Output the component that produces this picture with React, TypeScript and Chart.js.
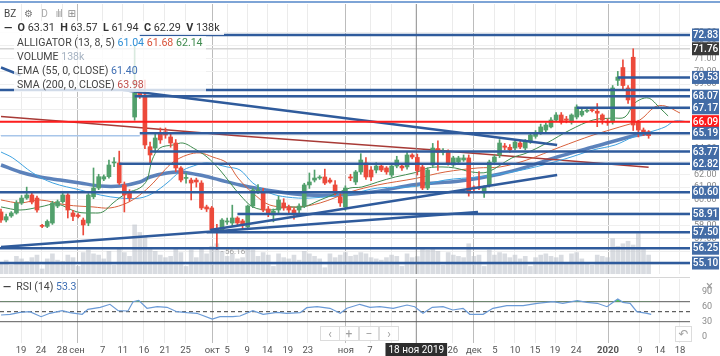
import React, { useEffect, useRef } from "react";
import { Chart, registerables } from "chart.js";

Chart.register(...registerables);

const FONT = "Roboto, 'Open Sans', 'DejaVu Sans', sans-serif";

// ---- candles (bar index 0..126) ----
const opens = [59.07,58.44,58.76,58.99,59.77,60.15,60.39,60.15,58.03,57.95,58.21,59.53,59.87,60.39,58.99,58.83,58.44,58.21,60.25,60.93,61.63,61.81,62.88,62.88,61.17,60.54,66.45,68.40,68.16,64.14,64.04,65.21,65.30,64.90,64.43,62.49,61.68,61.55,61.55,61.32,59.46,59.38,57.80,57.67,58.29,58.21,58.60,58.37,57.90,59.53,60.62,60.54,59.30,58.83,59.22,59.77,59.46,59.22,59.22,59.53,61.17,61.55,61.71,61.79,61.55,61.17,60.23,59.46,61.79,61.40,62.18,62.88,62.33,62.33,62.64,62.49,61.94,62.64,62.64,62.57,63.50,63.31,62.57,60.93,62.72,64.00,63.70,63.73,62.72,62.95,63.11,63.27,61.01,61.00,60.54,61.17,62.95,63.50,64.20,64.10,64.04,64.43,64.04,64.51,64.95,65.21,65.44,65.68,66.22,66.61,66.30,66.06,66.45,66.61,66.90,67.00,66.90,66.61,66.10,66.06,69.30,70.30,68.71,71.10,66.06,65.44,65.30];
const highs = [59.30,58.90,59.10,59.95,60.35,61.00,60.55,60.30,58.10,58.45,59.90,60.00,60.60,60.50,59.20,58.95,58.60,60.50,62.49,62.00,61.95,63.11,63.30,63.80,61.40,60.80,71.97,68.90,69.33,64.50,65.20,65.60,65.60,65.20,64.70,62.60,62.10,61.70,61.70,61.50,59.60,59.50,58.10,58.55,58.60,59.60,58.70,58.50,59.60,60.93,61.20,60.90,59.50,59.30,60.30,60.10,59.60,59.40,59.70,61.30,62.10,62.33,61.90,62.40,61.70,61.50,60.50,61.10,62.00,62.30,63.60,63.30,62.60,62.90,62.80,62.60,62.80,63.40,62.80,63.70,63.60,63.57,62.70,62.50,64.40,64.60,64.00,63.90,63.40,63.40,63.50,63.50,61.10,62.20,61.10,63.10,63.50,64.70,64.40,64.30,64.70,64.60,64.70,65.20,65.40,65.90,66.00,66.40,66.80,66.80,66.50,66.70,67.40,67.10,67.10,67.10,67.50,66.70,66.30,68.90,70.00,70.90,68.90,71.76,66.20,65.60,65.40];
const lows = [58.25,58.30,58.65,58.90,59.65,60.05,59.70,59.05,57.85,57.85,58.10,59.40,59.75,58.60,58.40,58.60,57.28,58.00,60.10,60.80,61.50,61.70,62.60,61.20,59.07,59.90,66.20,67.90,64.00,62.90,63.70,64.40,64.80,64.10,62.20,61.40,61.30,60.00,61.00,59.25,59.10,57.50,56.16,57.50,58.10,58.00,58.00,57.80,57.80,59.40,60.50,59.10,58.70,58.30,59.00,59.20,58.90,58.50,59.00,59.40,60.90,61.40,61.60,61.20,61.30,60.40,59.50,59.20,61.50,61.20,62.00,61.60,61.50,62.10,62.20,62.00,61.80,62.50,62.30,62.40,63.20,61.94,60.80,60.80,62.60,62.30,63.50,62.70,62.60,62.80,63.00,60.30,60.60,60.80,60.20,61.00,62.80,63.30,63.90,63.70,63.90,64.00,63.90,64.40,64.80,65.10,65.30,65.60,66.10,65.90,66.00,65.90,66.30,66.50,66.80,66.85,65.70,65.90,65.80,65.90,68.90,68.60,67.50,65.40,64.90,65.00,64.80];
const closes = [58.44,58.70,58.99,59.77,60.15,60.39,59.84,59.22,57.95,58.33,59.77,59.87,60.39,59.22,58.72,58.72,58.06,60.39,60.93,61.81,61.81,62.72,62.92,61.32,60.39,60.15,68.32,68.16,64.28,63.50,64.82,64.67,65.05,64.43,62.49,61.55,61.72,61.32,61.40,59.38,59.30,57.67,57.55,58.44,58.37,58.60,58.21,58.06,59.53,60.78,60.78,59.22,58.99,59.14,60.00,59.38,59.22,58.99,59.53,61.17,61.40,61.71,61.75,61.32,61.40,60.54,59.77,60.93,61.71,62.18,63.11,61.79,61.79,62.64,62.33,62.18,62.64,63.11,62.49,63.50,63.34,62.29,60.93,62.33,64.04,63.70,63.80,62.88,63.27,63.27,63.27,60.54,60.93,60.93,61.01,62.95,63.34,64.43,64.10,63.90,64.51,64.12,64.51,65.05,65.21,65.68,65.83,66.22,66.61,66.06,66.20,66.61,67.23,66.90,66.95,66.95,66.75,66.22,66.00,68.71,69.56,68.90,67.78,65.83,65.44,65.21,65.00];
const volumes = [90,110,70,140,120,100,130,150,40,120,160,110,100,150,130,60,170,190,160,150,120,180,70,200,170,140,
  390,330,300,210,180,150,130,140,200,170,60,190,130,210,160,
  220,240,180,140,160,120,130,200,190,140,170,150,60,160,130,120,150,110,180,160,140,120,50,160,130,150,170,
  140,150,170,160,130,120,110,130,150,140,60,160,130,138,200,190,210,180,70,170,150,140,130,240,140,150,60,190,150,170,160,130,150,
  120,140,60,130,150,160,140,130,150,90,160,170,120,80,70,150,140,130,280,220,240,260,230,320,200,150];

// ---- indicators: [bar index, value] ----
const jawPts = [[0,63.73],[2.3,63.27],[6.2,62.10],[10.1,61.32],[15.4,60.78],[19.3,60.39],[23.2,60.15],[27.0,60.15],[29.6,60.54],[32.3,61.32],[34.8,62.18],[37.4,62.64],[40.1,62.88],[44.0,62.57],[46.5,62.33],[49.0,61.32],[52.3,60.54],[55.6,60.23],[60.1,60.15],[67.9,60.47],[73.3,60.93],[80.7,61.05],[86.4,61.55],[92.8,61.79],[97.1,62.02],[102.3,62.41],[109.7,63.19],[115.2,63.89],[119.5,64.28],[123.0,64.90],[126.3,65.29],[129.2,65.68],[131.1,66.14],[134.0,66.06]];
const teethPts = [[0,60.00],[3.7,59.77],[7.6,60.00],[12.8,59.61],[17.9,59.46],[21.2,59.38],[24.5,59.77],[27.0,60.39],[29.6,61.32],[31.5,62.18],[33.5,62.95],[36.2,63.50],[38.7,63.66],[41.2,63.34],[44.0,62.88],[46.1,61.71],[49.0,60.54],[52.3,59.61],[57.6,59.46],[62.1,59.77],[67.9,60.62],[73.3,61.17],[80.7,61.68],[86.4,62.18],[92.8,62.49],[97.1,62.57],[102.3,63.11],[108.8,64.12],[115.2,65.05],[120.4,65.68],[124.3,66.22],[127.2,67.23],[129.2,67.31],[132.1,66.76]];
const lipsPts = [[0,59.46],[3.7,59.22],[7.6,59.46],[10.9,59.69],[14.8,59.07],[17.9,58.99],[19.8,59.07],[21.8,59.77],[24.5,60.54],[27.0,60.93],[28.4,61.55],[29.4,63.11],[30.9,64.04],[33.5,64.28],[35.4,64.43],[37.4,64.04],[40.1,63.34],[42.6,62.33],[44.6,61.32],[46.5,60.39],[49.0,59.46],[52.3,59.22],[55.6,59.46],[58.8,59.46],[62.1,60.00],[65.4,60.54],[67.9,60.93],[70.2,61.01],[73.3,61.40],[76.7,61.79],[80.7,62.14],[83.1,62.49],[85.8,62.57],[88.3,62.49],[91.6,62.18],[94.7,62.18],[99.4,63.27],[102.3,63.66],[106.2,64.43],[110.7,65.44],[115.2,66.22],[118.9,66.37],[121.4,66.45],[123.3,67.54],[125.9,67.93],[128.2,67.15],[129.8,66.53]];
const emaPts = [[0,62.72],[3.7,62.18],[7.6,61.79],[11.5,61.55],[15.4,61.32],[19.3,61.09],[23.2,61.09],[27.0,61.40],[29.0,61.79],[32.3,62.10],[34.8,62.18],[38.7,61.94],[42.6,61.55],[46.5,61.17],[52.9,60.70],[59.5,60.39],[66.0,60.39],[72.4,60.62],[80.7,61.20],[89.3,61.48],[97.1,62.02],[102.3,62.57],[108.2,63.34],[115.2,64.12],[123.0,64.98],[126.3,65.21]];
const smaPts = [[0,66.50],[25,65.70],[46,65.00],[81,63.98],[90,63.70],[126,62.55]];
const rsiPts = [[0,43.4],[1.8,44.8],[3.7,48.8],[5.6,50],[7.8,40],[9.5,46.8],[11.9,52],[13.4,48],[15.8,44.8],[16.9,54.8],[19.3,58.8],[21.2,64.8],[22.8,52],[24.7,51.4],[25.7,70],[26.8,72.8],[28.4,56.8],[30.4,60],[32.3,58.8],[34.2,50],[36.2,48],[38.1,46.8],[41.1,35.4],[42.6,40],[45.1,40],[46.5,41.4],[49,52],[51,44.8],[53.7,48.8],[55.6,46.8],[58.2,48],[59.5,58],[61.5,60],[64,56.8],[66,46.8],[67.3,56.8],[69.8,64.8],[71.8,58.8],[73.7,60],[76.3,56.8],[79,63.4],[80.5,60],[82.1,46.8],[83.9,58.8],[86,60],[87.9,53.4],[89.9,56.8],[91.2,44.8],[93.8,44.8],[95.7,56.8],[98.4,62],[101.6,62],[104.3,66.8],[107.4,70],[109.3,66.8],[112.1,72],[114,68.8],[116,66.8],[117.9,60],[119.1,68.8],[120,75.4],[121,68.8],[122.4,66.8],[123.7,50],[125.7,46.8],[126.5,44.8]];
const rsiLevels = [70, 50, 30];

// ---- drawn levels and trend lines ----
const levelPrices = [72.83, 69.53, 68.55, 68.07, 67.17, 66.09, 65.19, 63.77, 62.82, 60.60, 58.91, 57.50, 56.25, 55.10];
const levelFrom = [27, 120, null, 26, 112, null, 27, 29, 23, null, 46, 40, null, null];
const thinLevel = [65.0, 0, 27];
const trendLines = [[23.7, 68.55, 108.2, 64.28], [0, 56.34, 92.8, 59.07], [40.7, 57.67, 108.2, 61.94], [0, 70.3, 3.8, 69.7]];
const priceLabels = [72.83, 71.76, 69.53, 68.07, 67.17, 66.09, 65.19, 63.77, 62.82, 60.60, 58.91, 57.50, 56.25, 55.10];
const priceTicks = [55,56,57,58,59,60,61,62,63,64,65,66,67,68,69,70,71,72,73];
const rsiTicks = [0, 30, 60, 90];
const lowMark = { idx: 42, price: 56.16 };

// ---- time axis ----
const tickIdx = [3.9,7.8,11.9,14.8,19.8,23.7,27.8,31.9,35.9,41.1,44.0,47.9,51.8,55.8,59.7,67.1,71.8,75.9,87.9,92.0,96.1,100.0,103.9,107.8,111.9,118.1,124.3,128.2,132.1];
const tickLabels = ["19","24","28","сен","7","11","16","21","25","окт","5","9","14","19","23","ноя","7","12","26","дек","5","10","15","19","24","2020","9","14","18"];
const monthLabels = ["сен","окт","ноя","дек","2020"];
const crossIdx = 80.8;
const crossPrice = 71.76;
const crossLabel = "18 ноя 2019";

const X_MIN = -0.195, X_MAX = 134.05;
const P_MIN = 54.245, P_MAX = 75.24;
const VOL_MAX = 2143;
const R_MIN = -12.6, R_MAX = 115.4;

const UP = "#52a06c";
const DOWN = "#ec4a3b";
const LEVEL = "#2f5b9c";

const xy = (pts: number[][]) => pts.map(([x, y]) => ({ x, y }));

const gridX = (c: any) => (monthLabels.includes(tickLabels[c.index]) ? "#bcbcbc" : "#ebebeb");
const noPad = (s: any) => { s.paddingTop = 0; s.paddingBottom = 0; s.paddingLeft = 0; s.paddingRight = 0; };

export default function App() {
  const mainRef = useRef<HTMLCanvasElement>(null);
  const rsiRef = useRef<HTMLCanvasElement>(null);

  useEffect(() => {
    Chart.defaults.font.family = FONT;
    const n = Math.min(opens.length, highs.length, lows.length, closes.length);
    const bodies: any[] = [], wicks: any[] = [], vols: any[] = [], cols: string[] = [];
    for (let i = 0; i < n; i++) {
      bodies.push({ x: i, y: [opens[i], closes[i]] });
      wicks.push({ x: i, y: [lows[i], highs[i]] });
      vols.push({ x: i, y: volumes[i] ?? 0 });
      cols.push(closes[i] >= opens[i] ? UP : DOWN);
    }
    const line = (data: any[], color: string, width: number, order: number, extra: any = {}) => ({
      type: "line", data, borderColor: color, borderWidth: width, pointRadius: 0,
      tension: 0, fill: false, order, ...extra,
    });
    const datasets: any[] = [
      { type: "bar", data: vols, yAxisID: "yv", backgroundColor: "rgba(185,192,200,0.55)", barThickness: 4, grouped: false, order: 60 },
      line(xy(emaPts), "rgba(74,116,180,0.9)", 3.5, 50, { tension: 0.35 }),
      line(xy(smaPts), "#a83a36", 1.5, 49, { tension: 0.3 }),
      line(xy(jawPts), "#3fa2e0", 1, 48, { tension: 0.35 }),
      line(xy(teethPts), "#d8613c", 1, 47, { tension: 0.35 }),
      line(xy(lipsPts), "#3f8b4f", 1, 46, { tension: 0.35 }),
      line([{ x: X_MIN, y: crossPrice }, { x: X_MAX, y: crossPrice }], "#d4d4d4", 1.5, 45),
      line([{ x: crossIdx, y: P_MIN }, { x: crossIdx, y: P_MAX }], "#8a8a8a", 1, 44),
      { type: "bar", data: wicks, backgroundColor: cols, barThickness: 1, grouped: false, order: 30 },
      { type: "bar", data: bodies, backgroundColor: cols, barThickness: 4, minBarLength: 1, grouped: false, order: 29 },
      line([{ x: thinLevel[1], y: thinLevel[0] }, { x: thinLevel[2], y: thinLevel[0] }], "#a8c6ea", 1.5, 12),
    ];
    levelPrices.forEach((p, k) => {
      const from = levelFrom[k] === null ? X_MIN : (levelFrom[k] as number);
      const isRed = p === 66.09;
      datasets.push(line([{ x: from, y: p }, { x: X_MAX, y: p }], isRed ? "#ff1e1e" : LEVEL, isRed ? 2 : 2.5, isRed ? 5 : 10));
    });
    trendLines.forEach((t) => {
      datasets.push(line([{ x: t[0], y: t[1] }, { x: t[2], y: t[3] }], LEVEL, 2.5, 10));
    });

    const labelPlugin = {
      id: "priceLabels",
      afterDraw(chart: any) {
        const { ctx, chartArea, scales } = chart;
        ctx.save();
        ctx.font = `8px ${FONT}`;
        ctx.fillStyle = "#9a9a9a";
        ctx.textAlign = "left";
        ctx.textBaseline = "middle";
        ctx.fillText("- " + lowMark.price.toFixed(2), scales.x.getPixelForValue(lowMark.idx) + 4, scales.y.getPixelForValue(lowMark.price) + 3);
        ctx.font = `500 10px ${FONT}`;
        ctx.textAlign = "center";
        priceLabels.forEach((v) => {
          const y = scales.y.getPixelForValue(v);
          ctx.fillStyle = v === 66.09 ? "#ff1a1a" : v === crossPrice ? "#3a3a3a" : "#436ca6";
          ctx.fillRect(chartArea.right + 2, y - 6.5, 27, 13);
          ctx.fillStyle = "#ffffff";
          ctx.fillText(v.toFixed(2), chartArea.right + 15.5, y + 0.5);
        });
        ctx.restore();
      },
    };

    const main = new Chart(mainRef.current as HTMLCanvasElement, {
      type: "bar",
      data: { datasets },
      options: {
        animation: false, responsive: false, devicePixelRatio: 1, events: [],
        layout: { padding: 0, autoPadding: false },
        plugins: { legend: { display: false }, tooltip: { enabled: false } },
        scales: {
          x: {
            type: "linear", min: X_MIN, max: X_MAX, offset: false,
            afterBuildTicks: (s: any) => { s.ticks = tickIdx.map((v) => ({ value: v })); },
            afterFit: (s: any) => { s.height = 0; noPad(s); },
            ticks: { display: false },
            grid: { color: gridX, drawTicks: false, offset: false },
            border: { display: false },
          },
          y: {
            type: "linear", position: "right", min: P_MIN, max: P_MAX,
            afterBuildTicks: (s: any) => { s.ticks = priceTicks.map((v) => ({ value: v })); },
            afterFit: (s: any) => { s.width = 30; noPad(s); },
            ticks: { font: { size: 9 }, color: "#8a8a8a", padding: 4, callback: (v: any) => Number(v).toFixed(2) },
            grid: { color: "#efefef", drawTicks: false },
            border: { display: false },
          },
          yv: { type: "linear", display: false, min: 0, max: VOL_MAX },
        },
      } as any,
      plugins: [labelPlugin],
    } as any);

    const crossPlugin = {
      id: "crossLabel",
      afterDraw(chart: any) {
        const { ctx, chartArea, scales } = chart;
        const x = scales.x.getPixelForValue(crossIdx);
        ctx.save();
        ctx.font = `10px ${FONT}`;
        const w = ctx.measureText(crossLabel).width + 6;
        ctx.fillStyle = "#2e2e2e";
        ctx.fillRect(x - w / 2, chartArea.bottom, w, 13);
        ctx.fillStyle = "#ffffff";
        ctx.textAlign = "center";
        ctx.textBaseline = "middle";
        ctx.fillText(crossLabel, x, chartArea.bottom + 7);
        ctx.restore();
      },
    };

    const rsiSets: any[] = [
      line([{ x: crossIdx, y: R_MIN }, { x: crossIdx, y: R_MAX }], "#8a8a8a", 1, 20),
      line(xy(rsiPts), "#6a9ad6", 1.2, 1, {
        fill: { target: { value: 70 }, above: "rgba(60,205,70,0.9)", below: "rgba(0,0,0,0)" },
      }),
    ];
    rsiLevels.forEach((v) => {
      rsiSets.push(line([{ x: X_MIN, y: v }, { x: X_MAX, y: v }], v === 50 ? "#3a3a3a" : "#5a5a5a", 1, 5,
        v === 50 ? { borderDash: [4, 3] } : {}));
    });

    const rsi = new Chart(rsiRef.current as HTMLCanvasElement, {
      type: "line",
      data: { datasets: rsiSets },
      options: {
        animation: false, responsive: false, devicePixelRatio: 1, events: [],
        layout: { padding: 0, autoPadding: false },
        plugins: { legend: { display: false }, tooltip: { enabled: false } },
        scales: {
          x: {
            type: "linear", min: X_MIN, max: X_MAX, offset: false,
            afterBuildTicks: (s: any) => { s.ticks = tickIdx.map((v) => ({ value: v })); },
            afterFit: (s: any) => { s.height = 13; noPad(s); },
            ticks: {
              autoSkip: false, maxRotation: 0, minRotation: 0, padding: 2, color: "#555",
              font: (c: any) => ({ size: 9.5, weight: tickLabels[c.index] === "2020" ? "bold" : "normal" }),
              callback: (_v: any, i: number) => tickLabels[i],
            },
            grid: { color: gridX, drawTicks: false },
            border: { display: false },
          },
          y: {
            type: "linear", position: "right", min: R_MIN, max: R_MAX,
            afterBuildTicks: (s: any) => { s.ticks = rsiTicks.map((v) => ({ value: v })); },
            afterFit: (s: any) => { s.width = 30; noPad(s); },
            ticks: { font: { size: 9 }, color: "#8a8a8a", padding: 4 },
            grid: { display: false },
            border: { display: false },
          },
        },
      } as any,
      plugins: [crossPlugin],
    } as any);

    return () => { main.destroy(); rsi.destroy(); };
  }, []);

  const abs = (s: any) => ({ position: "absolute", ...s }) as React.CSSProperties;
  const btn = (s: any) => abs({ width: 20, height: 15, border: "1px solid #dcdcdc", background: "rgba(255,255,255,0.85)", color: "#a0a0a0", fontSize: 12, lineHeight: "14px", textAlign: "center", boxSizing: "border-box", ...s });

  return (
    <div style={abs({ position: "fixed", left: 0, top: 0, width: 720, height: 356, background: "#fff", overflow: "hidden", fontFamily: FONT })}>
      <canvas ref={mainRef} width={720} height={270} style={abs({ left: 0, top: 4, width: 720, height: 270 })} />
      <div style={abs({ left: 0, top: 1, width: 720, height: 2, background: "#7ea4d6" })} />
      <div style={abs({ left: 0, top: 277, width: 690, height: 1, background: "#d6d6d6" })} />
      <canvas ref={rsiRef} width={720} height={77} style={abs({ left: 0, top: 279, width: 720, height: 77 })} />

      <div style={abs({ left: 4, top: 8, fontSize: 10, color: "#444", whiteSpace: "nowrap", lineHeight: "12px" })}>
        <span>BZ</span>
        <span style={{ marginLeft: 8, color: "#777" }}>⚙</span>
        <span style={{ marginLeft: 8, color: "#aaa" }}>D</span>
        <span style={{ marginLeft: 8, color: "#aaa", letterSpacing: -1 }}>ılıl</span>
        <span style={{ marginLeft: 6, color: "#888" }}>⊞</span>
      </div>

      <div style={abs({ left: 0, top: 21, paddingLeft: 4, paddingRight: 4, height: 14, lineHeight: "14px", fontSize: 10.8, color: "#333", background: "rgba(255,255,255,0.85)", whiteSpace: "nowrap" })}>
        <b>—</b>&nbsp; <b>O</b> 63.31&nbsp; <b>H</b> 63.57&nbsp; <b>L</b> 61.94&nbsp; <b>C</b> 62.29&nbsp; <b>V</b> 138k
      </div>

      <div style={abs({ left: 14, top: 36, padding: "0 3px", fontSize: 10.6, lineHeight: "14px", color: "#444", background: "rgba(255,255,255,0.78)", whiteSpace: "nowrap" })}>
        <div>ALLIGATOR (13, 8, 5) <span style={{ color: "#2e8fd6" }}>61.04</span> <span style={{ color: "#d9533a" }}>61.68</span> <span style={{ color: "#3e8a4e" }}>62.14</span></div>
        <div>VOLUME <span style={{ color: "#a6b3c2" }}>138k</span></div>
        <div>EMA (55, 0, CLOSE) <span style={{ color: "#3e6eb3" }}>61.40</span></div>
        <div>SMA (200, 0, CLOSE) <span style={{ color: "#c0504d" }}>63.98</span></div>
      </div>

      <div style={abs({ left: 3, top: 281, fontSize: 10.5, lineHeight: "12px", color: "#444", whiteSpace: "nowrap" })}>
        <b>—</b>&nbsp; RSI (14) <span style={{ color: "#3e6eb3" }}>53.3</span>
      </div>
      <div style={abs({ left: 706, top: 278, fontSize: 13, color: "#9a9a9a" })}>×</div>

      <div style={btn({ left: 320, top: 326 })}>‹</div>
      <div style={btn({ left: 339, top: 326 })}>+</div>
      <div style={btn({ left: 359, top: 326 })}>−</div>
      <div style={btn({ left: 379, top: 326 })}>›</div>
      <div style={btn({ left: 675, top: 326, width: 17, height: 16 })}>↶</div>
    </div>
  );
}
